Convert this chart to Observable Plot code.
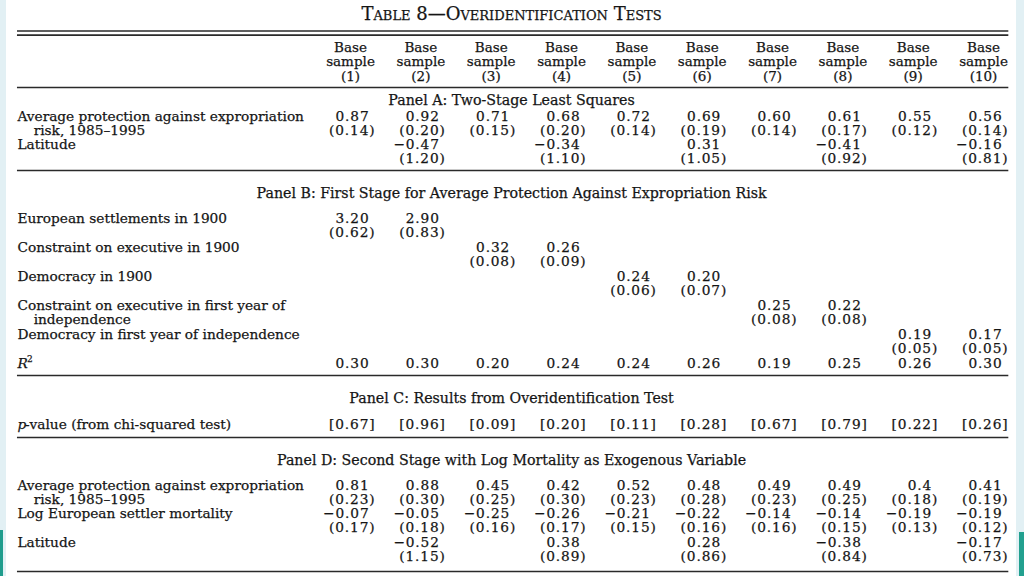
<!DOCTYPE html>
<html>
<head>
<meta charset="utf-8">
<script src="https://cdn.jsdelivr.net/npm/d3@7"></script>
<script src="https://cdn.jsdelivr.net/npm/@observablehq/plot@0.6"></script>
<style>
  html, body { margin: 0; padding: 0; background: #ffffff; width: 1024px; height: 576px; overflow: hidden; }
  #chart { position: absolute; left: 0; top: 0; }
  .edge { position: absolute; }
  .num text { letter-spacing: 0.9px; }
</style>
</head>
<body>
<div id="chart"></div>
<div class="edge" style="left:0;top:0;width:6px;height:576px;background:#e2f0f4"></div>
<div class="edge" style="left:0;top:530px;width:3px;height:46px;background:#1f9c8c"></div>
<div class="edge" style="left:1016px;top:0;width:8px;height:576px;background:#e2f0f4"></div>
<div class="edge" style="left:1019px;top:532px;width:5px;height:44px;background:#22a08f"></div>
<script>
// ---------------- data ----------------
const title = "Table 8—Overidentification Tests";
const columnHeads = ["(1)","(2)","(3)","(4)","(5)","(6)","(7)","(8)","(9)","(10)"];
const sampleLabel = ["Base", "sample"];

const panelATitle = "Panel A: Two-Stage Least Squares";
const aExpropLabel = ["Average protection against expropriation", "risk, 1985–1995"];
const aExprop   = ["0.87","0.92","0.71","0.68","0.72","0.69","0.60","0.61","0.55","0.56"];
const aExpropSE = ["0.14","0.20","0.15","0.20","0.14","0.19","0.14","0.17","0.12","0.14"];
const aLatLabel = "Latitude";
const aLat   = [null,"−0.47",null,"−0.34",null,"0.31",null,"−0.41",null,"−0.16"];
const aLatSE = [null,"1.20",null,"1.10",null,"1.05",null,"0.92",null,"0.81"];

const panelBTitle = "Panel B: First Stage for Average Protection Against Expropriation Risk";
const bLabels = [
  ["European settlements in 1900"],
  ["Constraint on executive in 1900"],
  ["Democracy in 1900"],
  ["Constraint on executive in first year of", "independence"],
  ["Democracy in first year of independence"]
];
const bCoef = ["3.20","2.90","0.32","0.26","0.24","0.20","0.25","0.22","0.19","0.17"];
const bSE   = ["0.62","0.83","0.08","0.09","0.06","0.07","0.08","0.08","0.05","0.05"];
const bR2   = ["0.30","0.30","0.20","0.24","0.24","0.26","0.19","0.25","0.26","0.30"];

const panelCTitle = "Panel C: Results from Overidentification Test";
const cLabel = ["p", "-value (from chi-squared test)"];
const cPValue = ["0.67","0.96","0.09","0.20","0.11","0.28","0.67","0.79","0.22","0.26"];

const panelDTitle = "Panel D: Second Stage with Log Mortality as Exogenous Variable";
const dExpropLabel = ["Average protection against expropriation", "risk, 1985–1995"];
const dExprop   = ["0.81","0.88","0.45","0.42","0.52","0.48","0.49","0.49","0.4","0.41"];
const dExpropSE = ["0.23","0.30","0.25","0.30","0.23","0.28","0.23","0.25","0.18","0.19"];
const dMortLabel = "Log European settler mortality";
const dMort   = ["−0.07","−0.05","−0.25","−0.26","−0.21","−0.22","−0.14","−0.14","−0.19","−0.19"];
const dMortSE = ["0.17","0.18","0.16","0.17","0.15","0.16","0.16","0.15","0.13","0.12"];
const dLatLabel = "Latitude";
const dLat   = [null,"−0.52",null,"0.38",null,"0.28",null,"−0.38",null,"−0.17"];
const dLatSE = [null,"1.15",null,"0.89",null,"0.86",null,"0.84",null,"0.73"];

// ---------------- layout (in column units / line units) ----------------
const LABEL_X = -3.735, INDENT = 0.23, RIGHT_X = 10.36, MID_X = 3.29;
const FONT = "DejaVu Serif";
const FS = 13.7;

const left = [], leftItalic = [], middle = [], heads = [], nums = [], wrapped = [], sup = [], rules = [];
const addNums = (row, y, wrap) => row.forEach((v, i) => {
  if (v == null) return;
  (wrap ? wrapped : nums).push({x: i + 1, y, text: wrap ? wrap[0] + v + wrap[1] : v});
});

// title & header
rules.push({y: 30.5, w: 1.7}, {y: 34.6, w: 1.7});
columnHeads.forEach((c, i) => {
  heads.push({x: i + 1, y: 47, text: sampleLabel[0]});
  heads.push({x: i + 1, y: 61.5, text: sampleLabel[1]});
  heads.push({x: i + 1, y: 76, text: c});
});
rules.push({y: 87, w: 1.3});

// panel A
{
  const y0 = 115.8, L = 14;
  middle.push({x: MID_X, y: 99.5, text: panelATitle});
  left.push({x: LABEL_X, y: y0, text: aExpropLabel[0]});
  left.push({x: LABEL_X + INDENT, y: y0 + L, text: aExpropLabel[1]});
  left.push({x: LABEL_X, y: y0 + 2 * L, text: aLatLabel});
  addNums(aExprop, y0);
  addNums(aExpropSE, y0 + L, ["(", ")"]);
  addNums(aLat, y0 + 2 * L);
  addNums(aLatSE, y0 + 3 * L, ["(", ")"]);
  rules.push({y: 170, w: 1.3});
}

// panel B
{
  const y0 = 218, L = 14.5;
  middle.push({x: MID_X, y: 193, text: panelBTitle});
  bLabels.forEach((lab, k) => {
    lab.forEach((t, j) => left.push({x: LABEL_X + (j ? INDENT : 0), y: y0 + (2 * k + j) * L, text: t}));
    [2 * k, 2 * k + 1].forEach(i => {
      nums.push({x: i + 1, y: y0 + 2 * k * L, text: bCoef[i]});
      wrapped.push({x: i + 1, y: y0 + (2 * k + 1) * L, text: "(" + bSE[i] + ")"});
    });
  });
  leftItalic.push({x: LABEL_X, y: y0 + 10 * L, text: "R"});
  sup.push({x: LABEL_X, y: y0 + 10 * L, text: "2"});
  addNums(bR2, y0 + 10 * L);
  rules.push({y: 375, w: 1.3});
}

// panel C
{
  middle.push({x: MID_X, y: 398, text: panelCTitle});
  leftItalic.push({x: LABEL_X, y: 424, text: cLabel[0]});
  left.push({x: LABEL_X, y: 424, text: cLabel[1], dx: 7.5});
  addNums(cPValue, 424, ["[", "]"]);
  rules.push({y: 437, w: 1.3});
}

// panel D
{
  const y0 = 485, L = 14.2;
  middle.push({x: MID_X, y: 460, text: panelDTitle});
  left.push({x: LABEL_X, y: y0, text: dExpropLabel[0]});
  left.push({x: LABEL_X + INDENT, y: y0 + L, text: dExpropLabel[1]});
  left.push({x: LABEL_X, y: y0 + 2 * L, text: dMortLabel});
  left.push({x: LABEL_X, y: y0 + 4 * L, text: dLatLabel});
  addNums(dExprop, y0);
  addNums(dExpropSE, y0 + L, ["(", ")"]);
  addNums(dMort, y0 + 2 * L);
  addNums(dMortSE, y0 + 3 * L, ["(", ")"]);
  addNums(dLat, y0 + 4 * L);
  addNums(dLatSE, y0 + 5 * L, ["(", ")"]);
  rules.push({y: 571, w: 1.4});
}

const common = {fontFamily: FONT, fill: "#151515", stroke: "#151515", strokeWidth: 0.25};
const chart = Plot.plot({
  width: 1024,
  height: 576,
  margin: 0,
  style: {background: "#ffffff", overflow: "visible"},
  x: {type: "linear", domain: [1, 10], range: [350, 983], axis: null},
  y: {type: "linear", domain: [0, 576], range: [0, 576], axis: null},
  marks: [
    Plot.ruleY(rules, {y: "y", x1: LABEL_X, x2: RIGHT_X, stroke: "#2a2a2a", strokeWidth: "w"}),
    Plot.text([{x: MID_X, y: 14, text: title}], {x: "x", y: "y", text: "text", textAnchor: "middle", fontSize: 18, fontVariant: "small-caps", ...common}),
    Plot.text(middle, {x: "x", y: "y", text: "text", textAnchor: "middle", fontSize: 14.2, ...common}),
    Plot.text(heads, {x: "x", y: "y", text: "text", textAnchor: "middle", fontSize: 13.5, ...common}),
    Plot.text(left.filter(d => !d.dx), {x: "x", y: "y", text: "text", textAnchor: "start", fontSize: FS, ...common}),
    Plot.text(left.filter(d => d.dx), {x: "x", y: "y", text: "text", textAnchor: "start", dx: 7.5, fontSize: FS, ...common}),
    Plot.text(leftItalic, {x: "x", y: "y", text: "text", textAnchor: "start", fontStyle: "italic", fontSize: FS, ...common}),
    Plot.text(sup, {x: "x", y: "y", text: "text", textAnchor: "start", dx: 9.5, dy: -4, fontSize: 9, ...common}),
    Plot.text(nums, {x: "x", y: "y", text: "text", textAnchor: "end", dx: 19, fontSize: FS, className: "num", ...common}),
    Plot.text(wrapped, {x: "x", y: "y", text: "text", textAnchor: "end", dx: 25, fontSize: FS, className: "num", ...common})
  ]
});
document.getElementById("chart").appendChild(chart);
</script>
</body>
</html>
